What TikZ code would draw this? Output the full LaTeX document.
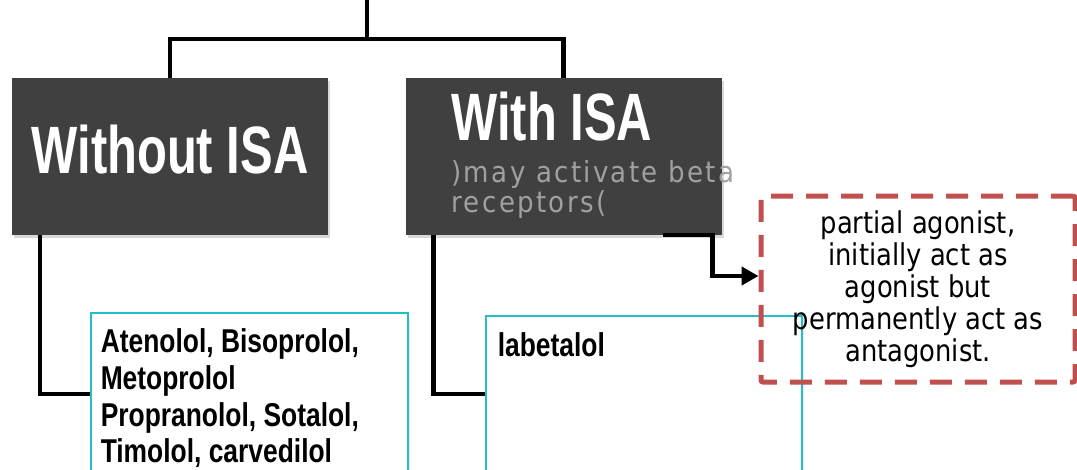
\documentclass[tikz,border=0pt]{standalone}
\usepackage{fontspec}
\setmainfont{Liberation Sans}
\newfontfamily\headfont[FakeStretch=0.73]{Liberation Sans}
\newfontfamily\listfont[FakeStretch=0.8]{Liberation Sans}
\newfontfamily\notefont[FakeStretch=0.86]{DejaVu Sans}
\newfontfamily\grayfont[FakeStretch=0.9,LetterSpace=8]{DejaVu Sans}
\usetikzlibrary{arrows.meta,shadows}
\definecolor{boxgray}{RGB}{64,64,64}
\definecolor{listcyan}{RGB}{36,190,200}
\definecolor{notered}{RGB}{192,80,77}
\definecolor{subgray}{RGB}{160,160,160}
\hfuzz=200pt
\tikzset{
  conn/.style={line width=4.5pt, black},
  headbox/.style={fill=boxgray, minimum width=316pt, minimum height=157pt,
    inner sep=0pt, text=white,
    drop shadow={shadow xshift=2pt, shadow yshift=-3pt, opacity=0.3}},
  headtext/.style={font=\headfont\bfseries\fontsize{67}{70}\selectfont},
  listbox/.style={draw=listcyan, line width=1.5pt, fill=white, anchor=north west,
    inner xsep=10pt, inner ysep=6pt,
    drop shadow={shadow xshift=2pt, shadow yshift=-2pt, opacity=0.15},
    font=\listfont\bfseries\fontsize{33}{36.7}\selectfont},
  notebox/.style={draw=notered, line width=5pt, dash pattern=on 22pt off 13pt,
    rounded corners=2pt, minimum width=314pt, minimum height=186pt,
    align=center, font=\notefont\fontsize{30}{32}\selectfont}
}
\begin{document}
\begin{tikzpicture}[x=1pt,y=-1pt]
  \useasboundingbox (0,0) rectangle (1077,469);
  % root of the tree (its box lies above the page)
  \coordinate (root) at (367,0);
  \coordinate (fork) at (367,39);

  % the two classes
  \node[headbox, headtext, text height=48pt, text depth=15pt] (wo) at (170,156.5) {Without ISA};
  \node[headbox] (w) at (563.5,156.5) {};
  \node[anchor=north west, align=left, inner sep=0pt, text=subgray,
        font=\grayfont\fontsize{29}{30}\selectfont] (wtext)
        at ([xshift=46pt,yshift=-14pt]w.north west)
        {{\headfont\bfseries\fontsize{67}{70}\selectfont\color{white}With ISA}\\[12pt]
         )may activate beta\\receptors(};

  \draw[conn] (root) -- (fork);
  \draw[conn] (fork) -| (wo.north);
  \draw[conn] (fork) -| (w.north);

  % drug lists
  \node[listbox] (lista) at (90,312)
    {\parbox[t][150pt][t]{297pt}{\raggedright\rule{0pt}{34pt}Atenolol, Bisoprolol,\\
      Metoprolol\\Propranolol, Sotalol,\\Timolol, carvedilol}};
  \node[listbox, inner xsep=12pt] (listb) at (485,315)
    {\parbox[t][144pt][t]{292pt}{\raggedright\rule{0pt}{35pt}labetalol}};

  \draw[conn] ([xshift=28pt]wo.south west) |- (lista.west);
  \draw[conn] ([xshift=28pt]w.south west) |- (listb.west);

  % note on partial agonism
  \node[notebox] (note) at (918,289)
    {partial agonist,\\initially act as\\agonist but\\permanently act as\\antagonist.};
  \draw[conn, -{Triangle[length=17pt,width=18pt]}]
    ([xshift=-59pt]w.south east) -- ++(50,0) |- ([yshift=13pt]note.west);
\end{tikzpicture}
\end{document}
